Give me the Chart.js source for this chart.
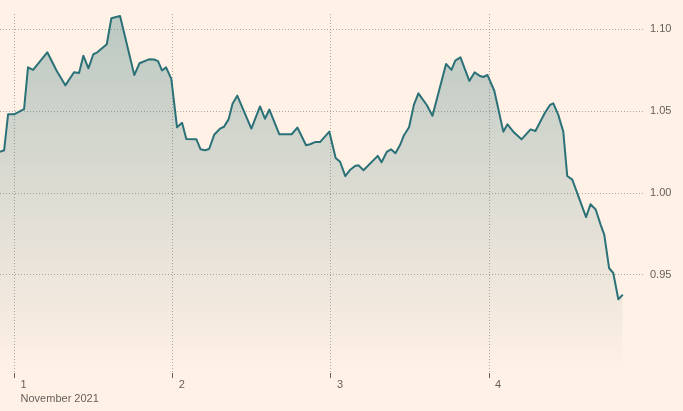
<!DOCTYPE html>
<html>
<head>
<meta charset="utf-8">
<script src="https://cdn.jsdelivr.net/npm/chart.js@4"></script>
<style>
  html, body { margin: 0; padding: 0; background: #fff1e5; }
  #wrap { width: 683px; height: 411px; position: relative; }
</style>
</head>
<body>
<div id="wrap"><canvas id="rateChart"></canvas></div>
<script>
// time as fractional day of November 2021
const dates = [
    0.908, 0.934, 0.959, 0.997, 1.060, 1.085, 1.117, 1.207, 1.267, 1.321,
    1.376, 1.408, 1.435, 1.467, 1.498, 1.523, 1.583, 1.612, 1.667, 1.757,
    1.790, 1.849, 1.882, 1.907, 1.932, 1.958, 1.991, 2.027, 2.059, 2.086,
    2.149, 2.176, 2.204, 2.230, 2.263, 2.299, 2.324, 2.353, 2.378, 2.408,
    2.497, 2.552, 2.583, 2.611, 2.674, 2.752, 2.788, 2.843, 2.868, 2.900,
    2.931, 2.990, 3.030, 3.058, 3.091, 3.121, 3.152, 3.175, 3.206, 3.296,
    3.320, 3.353, 3.380, 3.408, 3.437, 3.462, 3.494, 3.525, 3.553, 3.606,
    3.642, 3.728, 3.762, 3.786, 3.819, 3.875, 3.908, 3.939, 3.963, 3.990,
    4.033, 4.090, 4.116, 4.153, 4.205, 4.262, 4.293, 4.353, 4.385, 4.406,
    4.437, 4.469, 4.494, 4.526, 4.613, 4.641, 4.674, 4.706, 4.728, 4.759,
    4.785, 4.817, 4.845
];
const rates = [
    1.0252, 1.0261, 1.0481, 1.0481, 1.0512, 1.0768, 1.0752, 1.0860, 1.0746, 1.0658,
    1.0738, 1.0733, 1.0839, 1.0762, 1.0848, 1.0860, 1.0909, 1.1068, 1.1082, 1.0721,
    1.0793, 1.0817, 1.0816, 1.0806, 1.0749, 1.0768, 1.0697, 1.0402, 1.0429, 1.0330,
    1.0329, 1.0267, 1.0261, 1.0269, 1.0358, 1.0393, 1.0405, 1.0450, 1.0546, 1.0595,
    1.0394, 1.0529, 1.0454, 1.0510, 1.0359, 1.0359, 1.0400, 1.0292, 1.0298, 1.0311,
    1.0311, 1.0375, 1.0214, 1.0191, 1.0103, 1.0141, 1.0165, 1.0169, 1.0139, 1.0227,
    1.0188, 1.0251, 1.0267, 1.0243, 1.0293, 1.0353, 1.0402, 1.0540, 1.0609, 1.0538,
    1.0472, 1.0789, 1.0752, 1.0809, 1.0829, 1.0685, 1.0737, 1.0717, 1.0709, 1.0721,
    1.0625, 1.0375, 1.0420, 1.0375, 1.0328, 1.0389, 1.0379, 1.0490, 1.0538, 1.0548,
    1.0479, 1.0375, 1.0104, 1.0082, 0.9853, 0.9931, 0.9899, 0.9804, 0.9746, 0.9540,
    0.9511, 0.9351, 0.9378
];

const xTickDays = [1, 2, 3, 4];
const xTickLabels = ["1", "2", "3", "4"];
const monthLabel = "November 2021";
const yTicks = [0.95, 1.00, 1.05, 1.10];

const FONT = '"Liberation Sans", Arial, Helvetica, sans-serif';
const TEXT = "#66605c";
const GRID = "rgba(102, 96, 92, 0.5)";

// tick labels sit a little right of the tick, month below the first one
const dayLabels = {
    id: "dayLabels",
    afterDraw(chart) {
        const x = chart.scales.x;
        const ctx = chart.ctx;
        ctx.save();
        ctx.font = "11px " + FONT;
        ctx.fillStyle = TEXT;
        ctx.textBaseline = "middle";
        ctx.textAlign = "left";
        xTickDays.forEach((d, i) => {
            const px = x.getPixelForValue(d) + 6;
            ctx.fillText(xTickLabels[i], px, x.top + 12);
            if (i === 0) ctx.fillText(monthLabel, px, x.top + 26);
        });
        ctx.restore();
    },
};

const ctx = document.getElementById("rateChart").getContext("2d");
new Chart(ctx, {
    type: "line",
    data: {
        datasets: [
            {
                data: dates.map((d, i) => ({ x: d, y: rates[i] })),
                borderColor: "#2a7178",
                borderWidth: 2,
                borderJoinStyle: "round",
                pointRadius: 0,
                tension: 0,
                fill: "start",
                backgroundColor: (c) => {
                    const area = c.chart.chartArea;
                    if (!area) return "rgba(42, 113, 120, 0.2)";
                    const g = c.chart.ctx.createLinearGradient(0, area.top, 0, area.bottom);
                    g.addColorStop(0, "rgba(42, 113, 120, 0.32)");
                    g.addColorStop(1, "rgba(42, 113, 120, 0.0)");
                    return g;
                },
            },
        ],
    },
    options: {
        responsive: true,
        maintainAspectRatio: false,
        animation: false,
        layout: { padding: { top: 14, left: 0, right: 0, bottom: 0 } },
        plugins: {
            legend: { display: false },
            tooltip: { enabled: false },
        },
        scales: {
            x: {
                type: "linear",
                min: 0.908,
                max: 4.973,
                afterBuildTicks: (s) => { s.ticks = xTickDays.map((v) => ({ value: v })); },
                afterFit: (s) => { s.height = 38; },
                border: { display: false, dash: [1, 2] },
                grid: {
                    color: GRID,
                    drawTicks: true,
                    tickLength: 5,
                    tickColor: TEXT,
                    tickBorderDash: [],
                },
                ticks: { display: false },
            },
            y: {
                position: "right",
                min: 0.89,
                max: 1.1094,
                afterBuildTicks: (s) => { s.ticks = yTicks.map((v) => ({ value: v })); },
                afterFit: (s) => { s.width = 40; },
                border: { display: false, dash: [1, 2] },
                grid: {
                    color: GRID,
                    drawTicks: false,
                },
                ticks: {
                    padding: 7,
                    color: TEXT,
                    font: { family: FONT, size: 11 },
                    callback: (v) => v.toFixed(2),
                },
            },
        },
    },
    plugins: [dayLabels],
});
</script>
</body>
</html>
